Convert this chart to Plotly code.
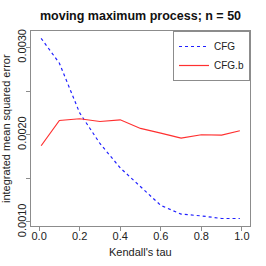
import plotly.graph_objects as go

tau = [0.01, 0.1, 0.2, 0.3, 0.4, 0.5, 0.6, 0.7, 0.8, 0.9, 0.99]
cfg = [0.003105, 0.00282, 0.00225, 0.00190, 0.00162, 0.00141, 0.00119, 0.00109, 0.00107, 0.00104, 0.00104]
cfg_b = [0.001874, 0.002163, 0.002183, 0.002152, 0.002171, 0.002072, 0.002019, 0.001962, 0.002000, 0.001996, 0.002046]

x_ticks = [0.0, 0.2, 0.4, 0.6, 0.8, 1.0]
y_ticks = [0.0010, 0.0015, 0.0020, 0.0025, 0.0030]
y_tick_text = ["0.0010", "", "0.0020", "", "0.0030"]

title = "moving maximum process; n = 50"
x_title = "Kendall's tau"
y_title = "integrated mean squared error"

FONT = "Liberation Sans, Arial, Helvetica, sans-serif"
GRAY = "#8c8c8c"

fig = go.Figure()
fig.add_trace(go.Scatter(x=tau, y=cfg, mode="lines", name="CFG",
                         line=dict(color="#2020ff", width=1.2, dash="3px,3px")))
fig.add_trace(go.Scatter(x=tau, y=cfg_b, mode="lines", name="CFG.b",
                         line=dict(color="#ff3030", width=1.2)))

PH = 266 - 31 - 40

fig.update_layout(
    template="none",
    width=266, height=266,
    margin=dict(l=31, r=16, t=31, b=40, pad=0, autoexpand=False),
    paper_bgcolor="white", plot_bgcolor="white",
    font=dict(family=FONT, size=11, color="#222"),
    showlegend=True,
    title=dict(text="<b>" + title + "</b>", x=0.5, xref="paper", xanchor="center",
               y=1 - 15.5 / 266, yref="container", yanchor="middle",
               font=dict(family=FONT, size=12.5, color="#111")),
    legend=dict(x=1, y=1, xanchor="right", yanchor="top",
                bordercolor=GRAY, borderwidth=1, bgcolor="white",
                font=dict(family=FONT, size=10, color="#222"),
                itemwidth=30, tracegroupgap=0),
    xaxis=dict(range=[-0.04, 1.04], tickvals=x_ticks, tickformat=".1f", automargin=False,
               showgrid=False, zeroline=False, showline=True, mirror=True,
               linecolor=GRAY, linewidth=1, ticks="outside", ticklen=4,
               ticklabelstandoff=-4,
               tickcolor=GRAY, tickfont=dict(family=FONT, size=11, color="#222")),
    yaxis=dict(range=[0.000954, 0.003189], tickvals=y_ticks, ticktext=y_tick_text,
               tickangle=-90, automargin=False, ticklabelstandoff=-4,
               showgrid=False, zeroline=False, showline=True, mirror=True,
               linecolor=GRAY, linewidth=1, ticks="outside", ticklen=4,
               tickcolor=GRAY, tickfont=dict(family=FONT, size=11, color="#222")),
    annotations=[
        dict(text=x_title, xref="paper", yref="paper", x=0.5, y=-(252 - 226.5) / PH,
             xanchor="center", yanchor="middle", showarrow=False,
             font=dict(family=FONT, size=11, color="#222")),
        dict(text=y_title, xref="paper", yref="paper", x=-(31 - 5.5) / 219, y=0.5,
             xanchor="center", yanchor="middle", textangle=-90, showarrow=False,
             font=dict(family=FONT, size=11, color="#222")),
    ],
)

fig.write_html("out.html", config={"displayModeBar": False},
               post_script="document.body.style.margin='0';document.body.style.overflow='hidden';")
